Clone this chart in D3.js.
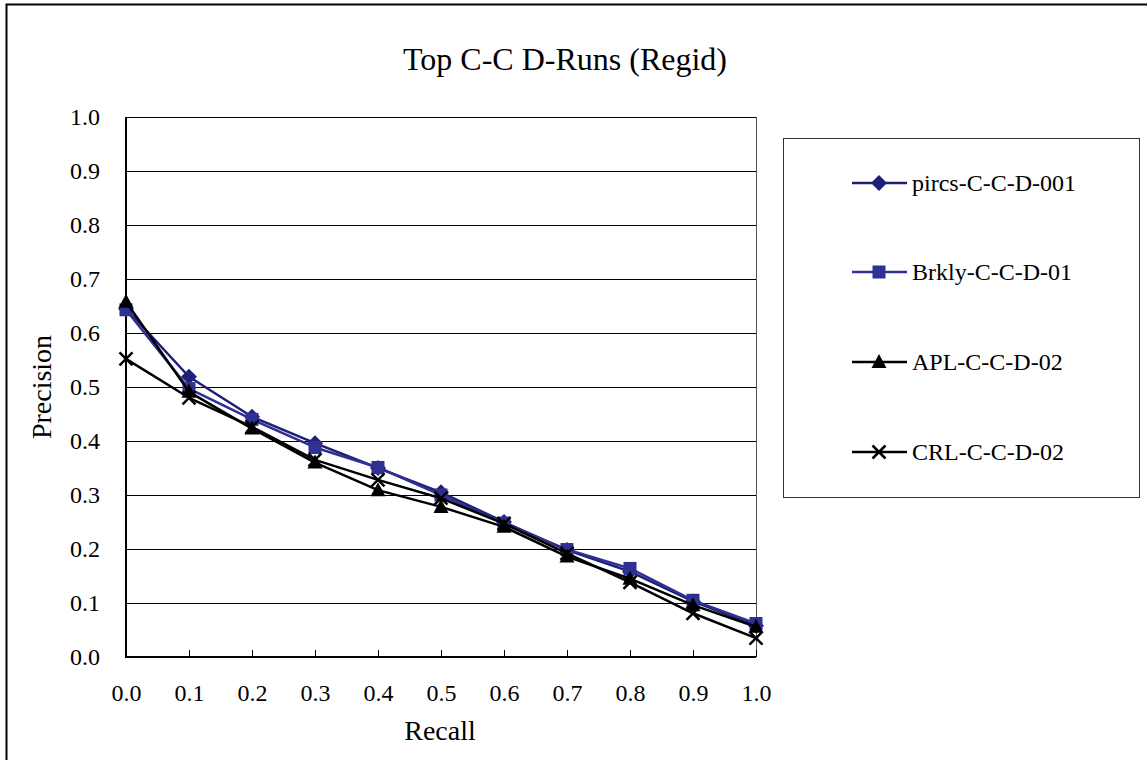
<!DOCTYPE html>
<html><head><meta charset="utf-8">
<script src="https://cdn.jsdelivr.net/npm/d3@7"></script>
<style>body{margin:0;background:#fff}svg{display:block}</style>
</head><body><svg id="c" width="1147" height="760"></svg>
<script>
const recall = [0.0,0.1,0.2,0.3,0.4,0.5,0.6,0.7,0.8,0.9,1.0];
const xTickLabels = ["0.0","0.1","0.2","0.3","0.4","0.5","0.6","0.7","0.8","0.9","1.0"];
const yTicks = [0.0,0.1,0.2,0.3,0.4,0.5,0.6,0.7,0.8,0.9,1.0];
const seriesNames = ["pircs-C-C-D-001","Brkly-C-C-D-01","APL-C-C-D-02","CRL-C-C-D-02"];
const pircs = [0.645,0.519,0.445,0.396,0.350,0.305,0.250,0.198,0.158,0.103,0.058];
const brkly = [0.643,0.497,0.440,0.388,0.351,0.300,0.248,0.199,0.164,0.105,0.062];
const apl   = [0.658,0.491,0.423,0.360,0.309,0.278,0.241,0.186,0.145,0.096,0.056];
const crl   = [0.552,0.480,0.426,0.365,0.328,0.294,0.247,0.192,0.138,0.081,0.035];
const title = "Top C-C D-Runs (Regid)";

const series = [
  {name: seriesNames[0], values: pircs, color: "#1f1f78", mcolor:"#1f1f78", marker:"diamond"},
  {name: seriesNames[1], values: brkly, color: "#2e3192", mcolor:"#2e3192", marker:"square"},
  {name: seriesNames[2], values: apl,   color: "#000000", mcolor:"#000000", marker:"triangle"},
  {name: seriesNames[3], values: crl,   color: "#000000", mcolor:"#000000", marker:"cross"}
];

const svg = d3.select("#c");
const font = "'Liberation Serif','Times New Roman',serif";
svg.append("rect").attr("width",1147).attr("height",760).attr("fill","#fff");
// outer frame
svg.append("rect").attr("x",6.5).attr("y",4.5).attr("width",1160).attr("height",780)
  .attr("fill","none").attr("stroke","#000").attr("stroke-width",2);

const L=126, R=756, T=117, B=657;
const x = d3.scaleLinear().domain([0,1]).range([L,R]);
const y = d3.scaleLinear().domain([0,1]).range([B,T]);

// title
svg.append("text").attr("x",565).attr("y",70).attr("text-anchor","middle")
  .attr("font-family",font).attr("font-size",32).text(title);

// gridlines
svg.append("g").selectAll("line").data(yTicks.filter(d=>d>0)).join("line")
  .attr("x1",L).attr("x2",R).attr("y1",d=>y(d)).attr("y2",d=>y(d))
  .attr("stroke","#000").attr("stroke-width",1).attr("shape-rendering","crispEdges");
// right border
svg.append("line").attr("x1",R).attr("x2",R).attr("y1",T).attr("y2",B)
  .attr("stroke","#555").attr("stroke-width",1).attr("shape-rendering","crispEdges");

// y axis labels
const yAxis = d3.axisLeft(y).tickValues(yTicks).tickFormat(d3.format(".1f")).tickSize(0).tickPadding(26);
const gy = svg.append("g").attr("transform",`translate(${L},0)`).call(yAxis);
gy.select(".domain").remove();
gy.selectAll("text").attr("font-family",font).attr("font-size",24).attr("fill","#000");

// x axis
const xAxis = d3.axisBottom(x).tickValues(recall).tickFormat((d,i)=>xTickLabels[i]).tickSizeInner(-7).tickSizeOuter(0).tickPadding(27);
const gx = svg.append("g").attr("transform",`translate(0,${B})`).call(xAxis);
gx.select(".domain").remove();
gx.selectAll("line").attr("stroke","#000").attr("stroke-width",1);
gx.selectAll("text").attr("font-family",font).attr("font-size",24).attr("fill","#000");

// axis lines
svg.append("line").attr("x1",L).attr("x2",L).attr("y1",T).attr("y2",B+1)
  .attr("stroke","#000").attr("stroke-width",2);
svg.append("line").attr("x1",L-1).attr("x2",R).attr("y1",B).attr("y2",B)
  .attr("stroke","#000").attr("stroke-width",2);

// axis titles
svg.append("text").attr("x",440).attr("y",740).attr("text-anchor","middle")
  .attr("font-family",font).attr("font-size",28).text("Recall");
svg.append("text").attr("transform",`translate(51,${(T+B)/2}) rotate(-90)`).attr("text-anchor","middle")
  .attr("font-family",font).attr("font-size",28).text("Precision");

function drawMarker(g, type, cx, cy, color){
  if(type==="diamond"){
    g.append("path").attr("d",`M${cx},${cy-8}L${cx+8},${cy}L${cx},${cy+8}L${cx-8},${cy}Z`).attr("fill",color);
  } else if(type==="square"){
    g.append("rect").attr("x",cx-6.5).attr("y",cy-6.5).attr("width",13).attr("height",13).attr("fill",color);
  } else if(type==="triangle"){
    g.append("path").attr("d",`M${cx},${cy-8}L${cx+7.5},${cy+6}L${cx-7.5},${cy+6}Z`).attr("fill",color);
  } else {
    g.append("path").attr("d",`M${cx-6.5},${cy-6.5}L${cx+6.5},${cy+6.5}M${cx+6.5},${cy-6.5}L${cx-6.5},${cy+6.5}`)
      .attr("stroke",color).attr("stroke-width",2.5).attr("fill","none");
  }
}

const line = d3.line().x((d,i)=>x(recall[i])).y(d=>y(d));
series.forEach(s=>{
  const g = svg.append("g");
  g.append("path").attr("d",line(s.values)).attr("fill","none")
    .attr("stroke",s.color).attr("stroke-width",2.5).attr("stroke-linejoin","round");
  s.values.forEach((v,i)=>drawMarker(g,s.marker,x(recall[i]),y(v),s.mcolor));
});

// legend
svg.append("rect").attr("x",783.5).attr("y",138.5).attr("width",356).attr("height",359)
  .attr("fill","#fff").attr("stroke","#333").attr("stroke-width",1);
const legY = [183,272,362,452];
series.forEach((s,i)=>{
  const g = svg.append("g");
  g.append("line").attr("x1",852).attr("x2",907).attr("y1",legY[i]).attr("y2",legY[i])
    .attr("stroke",s.color).attr("stroke-width",2.5);
  drawMarker(g,s.marker,879,legY[i],s.mcolor);
  g.append("text").attr("x",912).attr("y",legY[i]).attr("dy","0.35em")
    .attr("font-family",font).attr("font-size",24).text(s.name);
});
</script></body></html>
